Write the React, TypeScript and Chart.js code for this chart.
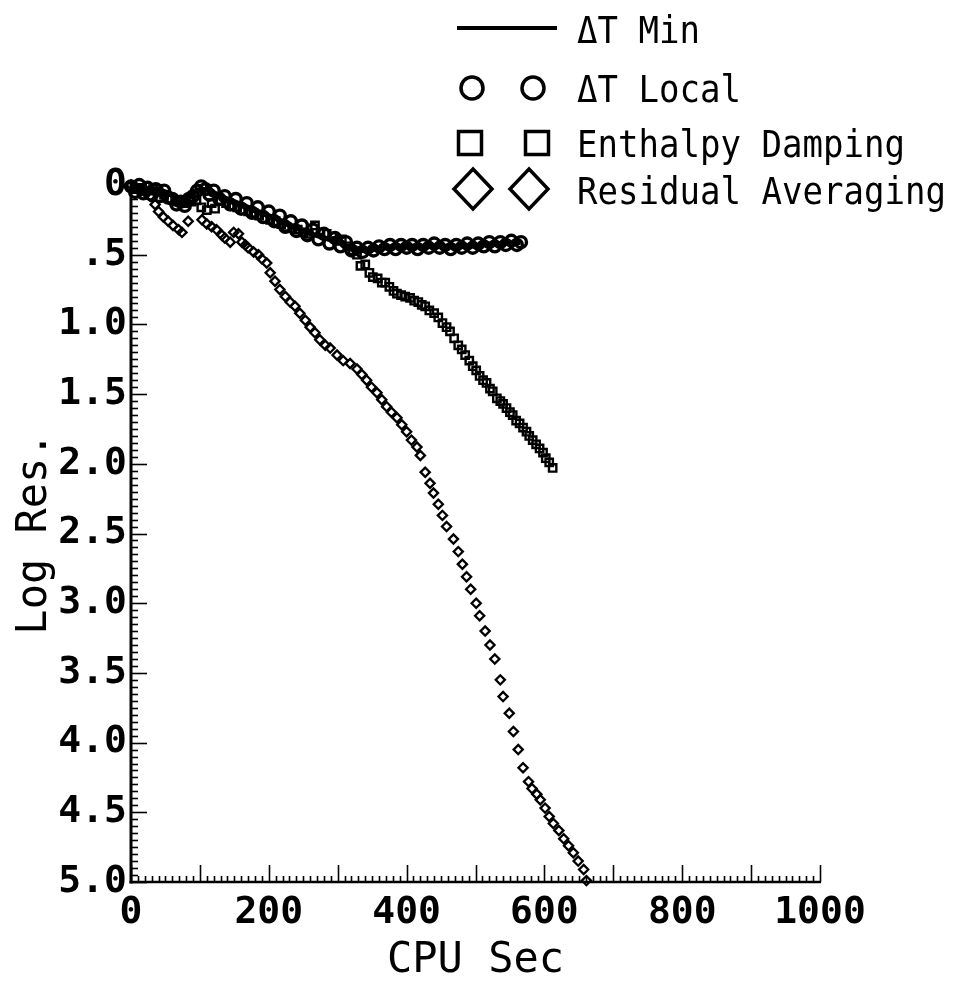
import React, { useEffect, useRef } from "react";
import { Chart, registerables } from "chart.js";

Chart.register(...registerables);

const MONO = '"DejaVu Sans Mono", "Liberation Mono", monospace';

const seriesNames = ["ΔT Min", "ΔT Local", "Enthalpy Damping", "Residual Averaging"];

const xTickValues = [0, 200, 400, 600, 800, 1000];
const yTickLabels = ["0", ".5", "1.0", "1.5", "2.0", "2.5", "3.0", "3.5", "4.0", "4.5", "5.0"];

const xTitle = "CPU Sec";
const yTitle = "Log Res.";

// ΔT Min (solid line)
const dtMin: [number, number][] = [
  [0, 0.02], [15, 0.02], [30, 0.03], [45, 0.04], [58, 0.07], [70, 0.11], [80, 0.1], [92, 0.05],
  [104, 0.03], [118, 0.05], [135, 0.09], [155, 0.13], [175, 0.17], [195, 0.21], [215, 0.25],
  [235, 0.3], [255, 0.34], [275, 0.37], [295, 0.4], [315, 0.44], [332, 0.47], [350, 0.46],
  [370, 0.45], [390, 0.44], [410, 0.44], [430, 0.44], [450, 0.44], [470, 0.44], [490, 0.44],
  [510, 0.43], [530, 0.42], [550, 0.42], [565, 0.41],
];

// ΔT Local (circles)
const dtLocal: [number, number][] = [
  [0, 0.01], [6, 0.05], [12, 0.0], [18, 0.06], [24, 0.02], [30, 0.07], [36, 0.03], [42, 0.08],
  [48, 0.04], [54, 0.09], [60, 0.1], [66, 0.14], [72, 0.12], [78, 0.15], [84, 0.1], [90, 0.08],
  [96, 0.04], [102, 0.01], [108, 0.03], [114, 0.07], [120, 0.04], [128, 0.1], [136, 0.08],
  [144, 0.14], [152, 0.1], [160, 0.17], [168, 0.13], [176, 0.2], [184, 0.16], [192, 0.23],
  [200, 0.19], [208, 0.26], [216, 0.22], [224, 0.3], [232, 0.26], [240, 0.33], [248, 0.29],
  [256, 0.36], [264, 0.32], [272, 0.39], [280, 0.35], [288, 0.42], [296, 0.38], [304, 0.44],
  [312, 0.41], [320, 0.47], [328, 0.45], [336, 0.48], [344, 0.45], [352, 0.47], [360, 0.44],
  [368, 0.46], [376, 0.43], [384, 0.46], [392, 0.43], [400, 0.45], [408, 0.43], [416, 0.46],
  [424, 0.43], [432, 0.45], [440, 0.42], [448, 0.45], [456, 0.43], [464, 0.46], [472, 0.43],
  [480, 0.45], [488, 0.42], [496, 0.45], [504, 0.42], [512, 0.44], [520, 0.41], [528, 0.44],
  [536, 0.41], [544, 0.43], [552, 0.4], [560, 0.43], [566, 0.41],
];

// Enthalpy Damping (squares)
const enthalpyDamping: [number, number][] = [
  [0, 0.01], [8, 0.03], [16, 0.02], [24, 0.04], [32, 0.03], [40, 0.05], [48, 0.07], [56, 0.1],
  [64, 0.12], [72, 0.11], [80, 0.13], [88, 0.12], [95, 0.11], [102, 0.16], [110, 0.18],
  [117, 0.13], [122, 0.17], [130, 0.11], [138, 0.13], [146, 0.15], [154, 0.16], [162, 0.18],
  [170, 0.19], [178, 0.2], [186, 0.22], [194, 0.24], [202, 0.25], [210, 0.26], [218, 0.28],
  [226, 0.3], [234, 0.31], [242, 0.32], [250, 0.34], [258, 0.35], [267, 0.29], [275, 0.34],
  [284, 0.35], [292, 0.37], [299, 0.4], [306, 0.39], [314, 0.44], [322, 0.47], [328, 0.5],
  [333, 0.58], [340, 0.57], [346, 0.63], [351, 0.66], [358, 0.67], [364, 0.7], [369, 0.7],
  [375, 0.73], [381, 0.76], [386, 0.78], [392, 0.79], [398, 0.8], [405, 0.81], [411, 0.83],
  [417, 0.84], [422, 0.86], [427, 0.87], [433, 0.9], [440, 0.92], [446, 0.95], [452, 0.99],
  [458, 1.02], [463, 1.05], [469, 1.1], [475, 1.15], [480, 1.18], [485, 1.22], [491, 1.26],
  [496, 1.3], [501, 1.33], [506, 1.37], [511, 1.4], [516, 1.42], [521, 1.46], [525, 1.48],
  [531, 1.53], [536, 1.55], [540, 1.57], [545, 1.6], [550, 1.63], [554, 1.65], [559, 1.69],
  [564, 1.71], [569, 1.74], [574, 1.77], [578, 1.8], [583, 1.83], [588, 1.86], [593, 1.89],
  [598, 1.92], [602, 1.96], [607, 1.99], [612, 2.03],
];

// Residual Averaging (diamonds)
const residualAveraging: [number, number][] = [
  [0, 0], [8, 0.02], [15, 0.04], [22, 0.06], [28, 0.08], [35, 0.14], [40, 0.19], [47, 0.23],
  [54, 0.26], [61, 0.29], [69, 0.32], [74, 0.34], [83, 0.26], [103, 0.25], [110, 0.28],
  [117, 0.3], [124, 0.32], [132, 0.36], [136, 0.38], [144, 0.41], [149, 0.34], [156, 0.35],
  [161, 0.41], [166, 0.43], [170, 0.45], [178, 0.48], [185, 0.5], [190, 0.53], [197, 0.56],
  [202, 0.63], [209, 0.69], [216, 0.75], [224, 0.8], [231, 0.84], [238, 0.87], [245, 0.92],
  [253, 0.97], [260, 1.02], [267, 1.06], [274, 1.11], [282, 1.15], [289, 1.17], [299, 1.22],
  [308, 1.26], [318, 1.28], [328, 1.32], [335, 1.36], [342, 1.4], [349, 1.45], [357, 1.49],
  [364, 1.54], [371, 1.59], [378, 1.63], [386, 1.67], [393, 1.72], [400, 1.77], [407, 1.83],
  [415, 1.88], [420, 1.94], [427, 2.06], [434, 2.14], [439, 2.21], [446, 2.29], [452, 2.37],
  [458, 2.45], [468, 2.54], [475, 2.63], [481, 2.72], [487, 2.81], [493, 2.9], [501, 3.0],
  [506, 3.09], [514, 3.2], [521, 3.3], [528, 3.4], [536, 3.55], [540, 3.67], [549, 3.79],
  [555, 3.92], [562, 4.05], [569, 4.18], [577, 4.28], [582, 4.33], [589, 4.37], [594, 4.41],
  [601, 4.47], [607, 4.53], [613, 4.58], [621, 4.63], [628, 4.69], [635, 4.74], [642, 4.79],
  [649, 4.85], [657, 4.91], [661, 4.99],
];

const toPts = (arr: [number, number][]) => arr.map(([x, y]) => ({ x, y }));

const decorPlugin = {
  id: "decor",
  beforeDatasetsDraw(chart: any) {
    const { ctx, chartArea, scales } = chart;
    const xs = scales.x;
    const ys = scales.y;
    const left = chartArea.left;
    const bottom = chartArea.bottom;
    const right = chartArea.right;
    const top = chartArea.top;
    ctx.save();
    ctx.strokeStyle = "#000";
    ctx.lineCap = "butt";
    // axis lines
    ctx.lineWidth = 3;
    ctx.beginPath();
    ctx.moveTo(left, top - 4);
    ctx.lineTo(left, bottom + 1.5);
    ctx.stroke();
    ctx.lineWidth = 2.5;
    ctx.beginPath();
    ctx.moveTo(left - 1.5, bottom);
    ctx.lineTo(right + 1, bottom);
    ctx.stroke();
    // y ticks (inside)
    ctx.lineWidth = 1.6;
    for (let i = 0; i <= 100; i++) {
      const v = i * 0.05;
      const py = Math.round(ys.getPixelForValue(v)) + 0.5;
      const len = i % 10 === 0 ? 16 : 7;
      ctx.beginPath();
      ctx.moveTo(left, py);
      ctx.lineTo(left + len, py);
      ctx.stroke();
    }
    // x ticks (inside)
    for (let i = 0; i <= 100; i++) {
      const v = i * 10;
      const px = Math.round(xs.getPixelForValue(v)) + 0.5;
      const len = i % 10 === 0 ? 17 : 6;
      ctx.beginPath();
      ctx.moveTo(px, bottom);
      ctx.lineTo(px, bottom - len);
      ctx.stroke();
    }
    ctx.restore();
  },
  afterDraw(chart: any) {
    const { ctx } = chart;
    ctx.save();
    ctx.strokeStyle = "#000";
    ctx.fillStyle = "#000";
    // row 1: line
    ctx.beginPath();
    ctx.moveTo(457, 28);
    ctx.lineTo(557, 28);
    ctx.lineWidth = 4;
    ctx.stroke();
    ctx.lineWidth = 3.5;
    // row 2: circles
    [472, 533].forEach((cx) => {
      ctx.beginPath();
      ctx.arc(cx, 88, 11, 0, Math.PI * 2);
      ctx.stroke();
    });
    // row 3: squares
    [470, 537].forEach((cx) => {
      ctx.strokeRect(cx - 11.5, 143 - 11.5, 23, 23);
    });
    // row 4: diamonds
    [473, 529].forEach((cx) => {
      ctx.beginPath();
      ctx.moveTo(cx, 189 - 20);
      ctx.lineTo(cx + 19, 189);
      ctx.lineTo(cx, 189 + 20);
      ctx.lineTo(cx - 19, 189);
      ctx.closePath();
      ctx.stroke();
    });
    // texts
    ctx.font = `37px ${MONO}`;
    ctx.textAlign = "left";
    ctx.textBaseline = "alphabetic";
    const baselines = [43, 102, 157, 204];
    seriesNames.forEach((name, i) => {
      ctx.save();
      ctx.translate(577, baselines[i]);
      ctx.scale(0.92, 1);
      ctx.fillText(name, 0, 0);
      ctx.restore();
    });
    ctx.restore();
  },
};

export default function App() {
  const canvasRef = useRef<HTMLCanvasElement | null>(null);

  useEffect(() => {
    document.body.style.margin = "0";
    const canvas = canvasRef.current;
    if (!canvas) return;
    const chart = new Chart(canvas, {
      type: "scatter",
      data: {
        datasets: [
          {
            label: seriesNames[0],
            data: toPts(dtMin),
            showLine: true,
            borderColor: "#000",
            borderWidth: 5,
            pointRadius: 0,
            tension: 0.3,
            clip: false,
          },
          {
            label: seriesNames[1],
            data: toPts(dtLocal),
            pointStyle: "circle",
            pointRadius: 5.5,
            borderColor: "#000",
            borderWidth: 3.4,
            backgroundColor: "rgba(0,0,0,0)",
            clip: false,
          },
          {
            label: seriesNames[2],
            data: toPts(enthalpyDamping),
            pointStyle: "rect",
            pointRadius: 5.2,
            borderColor: "#000",
            borderWidth: 2.4,
            backgroundColor: "rgba(0,0,0,0)",
            clip: false,
          },
          {
            label: seriesNames[3],
            data: toPts(residualAveraging),
            pointStyle: "rectRot",
            pointRadius: 4.6,
            borderColor: "#000",
            borderWidth: 2.3,
            backgroundColor: "rgba(0,0,0,0)",
            clip: false,
          },
        ],
      },
      options: {
        animation: false,
        responsive: true,
        maintainAspectRatio: false,
        layout: { padding: { top: 185, right: 138, left: 0, bottom: 0 } },
        plugins: { legend: { display: false }, tooltip: { enabled: false } },
        scales: {
          x: {
            type: "linear",
            min: 0,
            max: 1000,
            grid: { display: false, drawTicks: false },
            border: { display: false },
            afterFit: (s: any) => {
              s.height = 114;
            },
            afterBuildTicks: (s: any) => {
              s.ticks = xTickValues.map((v) => ({ value: v }));
            },
            ticks: {
              color: "#000",
              font: { family: MONO, size: 38, weight: "bold" },
              padding: 8,
              maxRotation: 0,
              autoSkip: false,
              callback: (v: any) => String(v),
            },
            title: {
              display: true,
              text: xTitle,
              color: "#000",
              font: { family: MONO, size: 42 },
              padding: { top: 0, bottom: 10 },
            },
          },
          y: {
            type: "linear",
            min: 0,
            max: 5,
            reverse: true,
            grid: { display: false, drawTicks: false },
            border: { display: false },
            afterFit: (s: any) => {
              s.width = 131;
            },
            ticks: {
              stepSize: 0.5,
              color: "#000",
              font: { family: MONO, size: 38, weight: "bold" },
              padding: 4,
              autoSkip: false,
              callback: (v: any) => yTickLabels[Math.round(Number(v) / 0.5)] ?? "",
            },
            title: {
              display: true,
              text: yTitle,
              color: "#000",
              font: { family: MONO, size: 42 },
              padding: { top: 10, bottom: 0 },
            },
          },
        },
      },
      plugins: [decorPlugin],
    } as any);
    return () => chart.destroy();
  }, []);

  return (
    <div style={{ width: 958, height: 996, position: "relative" }}>
      <canvas ref={canvasRef} />
    </div>
  );
}
